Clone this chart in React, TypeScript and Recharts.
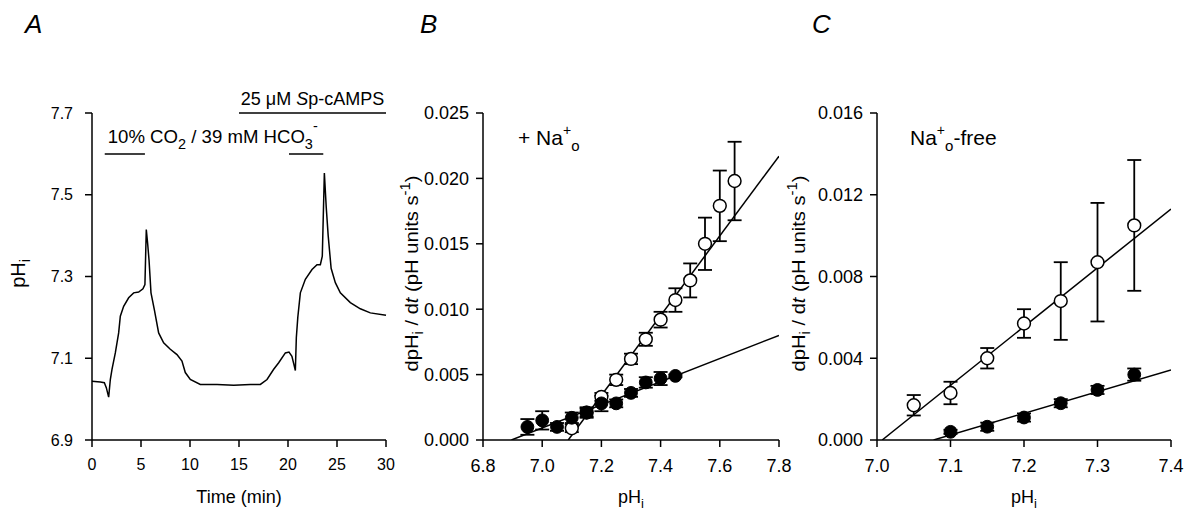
import * as React from 'react';
import { ComposedChart, Line, Scatter, ErrorBar, XAxis, YAxis, ReferenceLine, Customized } from 'recharts';

const FONT = '"Liberation Sans", Arial, Helvetica, sans-serif';

// A: pHi recording (min, pH units)
const timeMin = [0, 0.85, 1.26, 1.46, 1.7, 1.87, 2.04, 2.38, 2.72, 2.89, 3.23, 3.74, 4.25, 4.76, 5.2, 5.4, 5.54, 5.68, 5.82, 6.02, 6.36, 6.8, 7.31, 7.99, 8.67, 9.18, 9.52, 10.03, 11.05, 12.76, 14.46, 16.16, 17.18, 17.86, 18.54, 19.05, 19.73, 20.1, 20.4, 20.6, 20.75, 20.85, 21.0, 21.26, 21.77, 22.45, 22.96, 23.3, 23.5, 23.71, 23.9, 24.1, 24.4, 24.83, 25.34, 26.36, 27.38, 28.4, 30];
const phTrace = [7.044, 7.042, 7.04, 7.028, 7.005, 7.048, 7.073, 7.113, 7.162, 7.203, 7.227, 7.248, 7.26, 7.262, 7.27, 7.28, 7.415, 7.38, 7.34, 7.26, 7.219, 7.162, 7.138, 7.122, 7.109, 7.093, 7.065, 7.048, 7.036, 7.036, 7.034, 7.036, 7.036, 7.048, 7.073, 7.089, 7.113, 7.115, 7.105, 7.085, 7.07, 7.15, 7.2, 7.26, 7.293, 7.317, 7.329, 7.329, 7.35, 7.553, 7.47, 7.4, 7.32, 7.285, 7.26, 7.236, 7.221, 7.211, 7.205];
const timeTicks = [0, 5, 10, 15, 20, 25, 30];
const phTicksA = [6.9, 7.1, 7.3, 7.5, 7.7];
// application bars (min)
const co2Bar1 = [1.3, 5.4];
const co2Bar2 = [20.1, 23.6];
const spBar = [15, 30];

// B: + Na+o
const phOpenB = [7.1, 7.15, 7.2, 7.25, 7.3, 7.35, 7.4, 7.45, 7.5, 7.55, 7.6, 7.65];
const rateOpenB = [0.0009, 0.0021, 0.0033, 0.0046, 0.0062, 0.0077, 0.0092, 0.0107, 0.0122, 0.015, 0.0179, 0.0198];
const errOpenB = [0.0003, 0.0003, 0.0003, 0.0004, 0.0004, 0.0005, 0.0006, 0.0009, 0.0013, 0.002, 0.0027, 0.003];
const phFilledB = [6.95, 7.0, 7.05, 7.1, 7.15, 7.2, 7.25, 7.3, 7.35, 7.4, 7.45];
const rateFilledB = [0.001, 0.0015, 0.001, 0.0017, 0.0021, 0.0028, 0.0028, 0.0036, 0.0044, 0.0047, 0.0049];
const errFilledB = [0.0006, 0.0007, 0.0003, 0.0004, 0.0004, 0.0006, 0.0003, 0.0003, 0.0004, 0.0005, 0.0001];
const fitOpenB = [{ ph: 7.088, rate: 0 }, { ph: 7.8, rate: 0.0217 }];
const fitFilledB = [{ ph: 6.896, rate: 0 }, { ph: 7.8, rate: 0.008 }];
const phTicksB = [6.8, 7.0, 7.2, 7.4, 7.6, 7.8];
const rateTicksB = [0, 0.005, 0.01, 0.015, 0.02, 0.025];

// C: Na+o-free
const phOpenC = [7.05, 7.1, 7.15, 7.2, 7.25, 7.3, 7.35];
const rateOpenC = [0.0017, 0.0023, 0.004, 0.0057, 0.0068, 0.0087, 0.0105];
const errOpenC = [0.0005, 0.00055, 0.0005, 0.0007, 0.0019, 0.0029, 0.0032];
const phFilledC = [7.1, 7.15, 7.2, 7.25, 7.3, 7.35];
const rateFilledC = [0.0004, 0.00065, 0.0011, 0.0018, 0.00245, 0.0032];
const errFilledC = [0.0001, 0.0002, 0.0002, 0.0002, 0.0002, 0.0003];
const fitOpenC = [{ ph: 7.007, rate: 0 }, { ph: 7.4, rate: 0.0113 }];
const fitFilledC = [{ ph: 7.077, rate: 0 }, { ph: 7.4, rate: 0.00343 }];
const phTicksC = [7.0, 7.1, 7.2, 7.3, 7.4];
const rateTicksC = [0, 0.004, 0.008, 0.012, 0.016];

const traceData = timeMin.map((t, i) => ({ t, ph: phTrace[i] }));
const toPoints = (ph: number[], rate: number[], err: number[]) =>
  ph.map((p, i) => ({ ph: p, rate: rate[i], err: err[i] }));

const axisStyle = { stroke: '#000', strokeWidth: 1.5 };

const OpenDot = (p: any) => <circle cx={p.cx} cy={p.cy} r={6.4} fill="#fff" stroke="#000" strokeWidth={1.5} />;
const FilledDot = (p: any) => <circle cx={p.cx} cy={p.cy} r={6.4} fill="#000" stroke="#000" strokeWidth={1} />;

const PhTitleY = ({ viewBox, dx }: any) => {
  const x = viewBox.x + dx;
  const y = viewBox.y + viewBox.height / 2 - 3;
  return (
    <text x={x} y={y} transform={`rotate(-90 ${x} ${y})`} textAnchor="middle" fontSize={20} fontFamily={FONT} fill="#000">
      pH<tspan dy={5} fontSize={14}>i</tspan>
    </text>
  );
};

const RateTitleY = ({ viewBox, dx }: any) => {
  const x = viewBox.x + dx;
  const y = viewBox.y + viewBox.height / 2 - 3;
  return (
    <text x={x} y={y} transform={`rotate(-90 ${x} ${y})`} textAnchor="middle" fontSize={19} fontFamily={FONT} fill="#000"
      textLength={196} lengthAdjust="spacingAndGlyphs">
      dpH<tspan dy={5} fontSize={14}>i</tspan>
      <tspan dy={-5}>{' / d'}</tspan>
      <tspan fontStyle="italic">t</tspan>
      {' (pH units s'}
      <tspan dy={-8} fontSize={14}>-1</tspan>
      <tspan dy={8}>)</tspan>
    </text>
  );
};

const TitleX = ({ viewBox, sub, children }: any) => (
  <text x={viewBox.x + viewBox.width / 2} y={viewBox.y + 63} textAnchor="middle" fontSize={18} fontFamily={FONT} fill="#000">
    {children}
    {sub ? <tspan dy={5} fontSize={13}>{sub}</tspan> : null}
  </text>
);

const SpCaption = ({ viewBox }: any) => (
  <text x={viewBox.x + viewBox.width / 2} y={viewBox.y - 8} textAnchor="middle" fontSize={18} fontFamily={FONT} fill="#000">
    {'25 \u03BCM '}
    <tspan fontStyle="italic">S</tspan>p-cAMPS
  </text>
);

const Co2Caption = ({ viewBox }: any) => (
  <text x={viewBox.x + 3} y={viewBox.y - 11} fontSize={18} fontFamily={FONT} fill="#000" textLength={210} lengthAdjust="spacingAndGlyphs">
    10% CO<tspan dy={6} fontSize={14}>2</tspan>
    <tspan dy={-6}>{' / 39 mM HCO'}</tspan>
    <tspan dy={6} fontSize={14}>3</tspan>
    <tspan dy={-18} fontSize={14}>-</tspan>
  </text>
);

const PanelLetter = ({ x, letter }: { x: number; letter: string }) => (
  <text x={x} y={33} fontSize={26} fontStyle="italic" fontFamily={FONT} fill="#000">{letter}</text>
);

const tickStyle = (size: number) => ({ fill: '#000', fontSize: size, fontFamily: FONT });

function PanelA() {
  return (
    <ComposedChart width={400} height={517} data={traceData} margin={{ top: 113, right: 14, bottom: 47, left: 32 }}>
      <XAxis type="number" dataKey="t" domain={[0, 30]} ticks={timeTicks} interval={0} axisLine={axisStyle} tickLine={axisStyle}
        tickSize={7} tickMargin={12} tick={tickStyle(16)} height={30} label={<TitleX>Time (min)</TitleX>} />
      <YAxis type="number" domain={[6.9, 7.7]} ticks={phTicksA} interval={0} tickFormatter={(v: number) => v.toFixed(1)}
        axisLine={axisStyle} tickLine={axisStyle} tickSize={7} tickMargin={12} tick={tickStyle(16)} width={60}
        label={<PhTitleY dx={-7} />} />
      <ReferenceLine segment={[{ x: spBar[0], y: 7.7 }, { x: spBar[1], y: 7.7 }]} stroke="#000" strokeWidth={1.5} ifOverflow="visible" label={<SpCaption />} />
      <ReferenceLine segment={[{ x: co2Bar1[0], y: 7.6 }, { x: co2Bar1[1], y: 7.6 }]} stroke="#000" strokeWidth={1.5} label={<Co2Caption />} />
      <ReferenceLine segment={[{ x: co2Bar2[0], y: 7.6 }, { x: co2Bar2[1], y: 7.6 }]} stroke="#000" strokeWidth={1.5} />
      <Line type="linear" dataKey="ph" stroke="#000" strokeWidth={1.5} dot={false} isAnimationActive={false} />
      <Customized component={() => <PanelLetter x={25} letter="A" />} />
    </ComposedChart>
  );
}

function RatePanel(props: {
  letter: string; letterX: number; domain: [number, number]; xTicks: number[]; yDomain: [number, number]; yTicks: number[];
  titleDx: number; margin: any; width: number;
  open: any[]; filled: any[]; fitOpen: any[]; fitFilled: any[]; note: React.ReactNode;
}) {
  return (
    <ComposedChart width={props.width} height={517} margin={props.margin}>
      <XAxis type="number" dataKey="ph" domain={props.domain} ticks={props.xTicks} interval={0} allowDataOverflow
        tickFormatter={(v: number) => v.toFixed(1)} axisLine={axisStyle} tickLine={axisStyle}
        tickSize={7} tickMargin={12} tick={tickStyle(18)} height={30} label={<TitleX sub="i">pH</TitleX>} />
      <YAxis type="number" domain={props.yDomain} ticks={props.yTicks} interval={0} allowDataOverflow
        tickFormatter={(v: number) => v.toFixed(3)} axisLine={axisStyle} tickLine={axisStyle}
        tickSize={7} tickMargin={7} tick={tickStyle(18)} width={60} label={<RateTitleY dx={props.titleDx} />} />
      <Line data={props.fitOpen} type="linear" dataKey="rate" stroke="#000" strokeWidth={1.5} dot={false} isAnimationActive={false} />
      <Line data={props.fitFilled} type="linear" dataKey="rate" stroke="#000" strokeWidth={1.5} dot={false} isAnimationActive={false} />
      <Scatter data={props.open} dataKey="rate" shape={OpenDot} isAnimationActive={false}>
        <ErrorBar dataKey="err" direction="y" width={7} stroke="#000" strokeWidth={1.8} />
      </Scatter>
      <Scatter data={props.filled} dataKey="rate" shape={FilledDot} isAnimationActive={false}>
        <ErrorBar dataKey="err" direction="y" width={7} stroke="#000" strokeWidth={1.8} />
      </Scatter>
      <Customized component={() => (
        <g>
          <PanelLetter x={props.letterX} letter={props.letter} />
          {props.note}
        </g>
      )} />
    </ComposedChart>
  );
}

export default function App() {
  return (
    <div style={{ position: 'absolute', left: 0, top: 0, width: 1186, height: 517, background: '#fff' }}>
      <div style={{ position: 'absolute', left: 0, top: 0 }}>
        <PanelA />
      </div>
      <div style={{ position: 'absolute', left: 380, top: 0 }}>
        <RatePanel letter="B" letterX={40} domain={[6.8, 7.8]} xTicks={phTicksB} yDomain={[0, 0.025]} yTicks={rateTicksB}
          titleDx={-5} width={420} margin={{ top: 113, right: 21, bottom: 47, left: 43 }}
          open={toPoints(phOpenB, rateOpenB, errOpenB)} filled={toPoints(phFilledB, rateFilledB, errFilledB)}
          fitOpen={fitOpenB} fitFilled={fitFilledB}
          note={
            <text x={138} y={145} fontSize={21} fontFamily={FONT} fill="#000">
              + Na<tspan dy={-10} fontSize={14}>+</tspan><tspan dy={16} fontSize={15}>o</tspan>
            </text>
          } />
      </div>
      <div style={{ position: 'absolute', left: 770, top: 0 }}>
        <RatePanel letter="C" letterX={42} domain={[7.0, 7.4]} xTicks={phTicksC} yDomain={[0, 0.016]} yTicks={rateTicksC}
          titleDx={-12} width={416} margin={{ top: 113, right: 15, bottom: 47, left: 47 }}
          open={toPoints(phOpenC, rateOpenC, errOpenC)} filled={toPoints(phFilledC, rateFilledC, errFilledC)}
          fitOpen={fitOpenC} fitFilled={fitFilledC}
          note={
            <text x={140} y={145} fontSize={21} fontFamily={FONT} fill="#000">
              Na<tspan dy={-10} fontSize={14}>+</tspan><tspan dy={16} fontSize={15}>o</tspan><tspan dy={-6}>-free</tspan>
            </text>
          } />
      </div>
    </div>
  );
}
